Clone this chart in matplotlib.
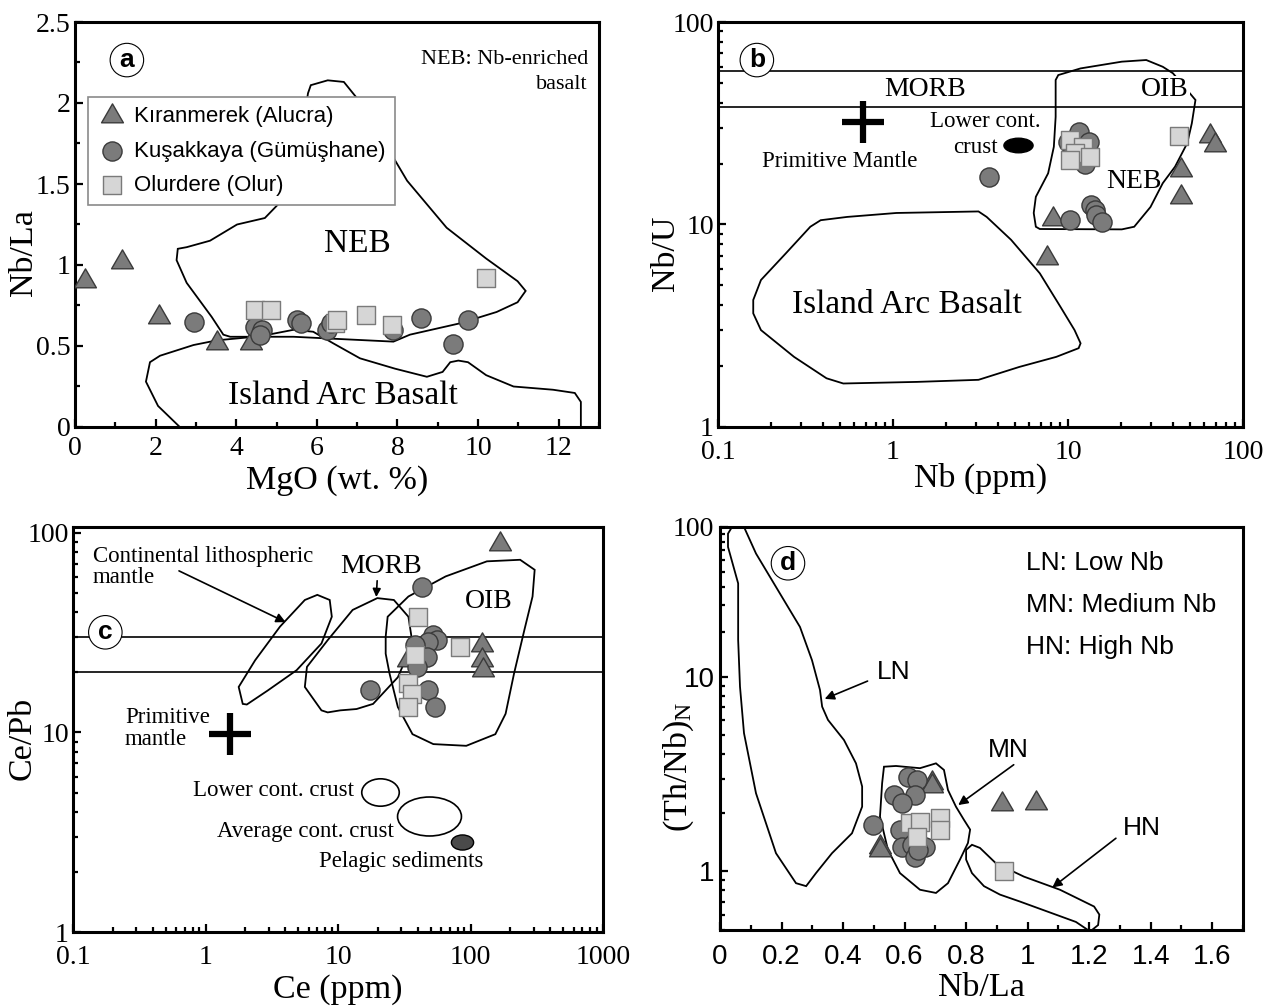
import numpy as np
import matplotlib
matplotlib.use("Agg")
import matplotlib.pyplot as plt
from matplotlib.path import Path
from matplotlib.patches import Polygon
from matplotlib.ticker import FuncFormatter, MultipleLocator, FixedLocator, NullFormatter, LogLocator

SERIF = "Liberation Serif"
SANS = "Liberation Sans"
plt.rcParams["font.family"] = [SERIF, "DejaVu Serif"]
plt.rcParams["mathtext.default"] = "regular"

# ---- (a) MgO vs Nb/La ----
a_tri_mgo = [0.25, 1.16, 2.09, 3.52, 4.36]
a_tri_nbla = [0.90, 1.02, 0.68, 0.52, 0.52]
a_cir_mgo = [2.94, 4.47, 4.65, 4.59, 5.52, 5.60, 6.24, 6.34, 7.90, 8.58, 9.37, 9.76]
a_cir_nbla = [0.65, 0.62, 0.60, 0.57, 0.66, 0.64, 0.60, 0.64, 0.60, 0.67, 0.51, 0.66]
a_sq_mgo = [4.47, 4.86, 6.45, 6.51, 7.21, 7.86, 10.19]
a_sq_nbla = [0.72, 0.72, 0.64, 0.66, 0.69, 0.63, 0.92]

a_neb_field = [(5.78, 2.06), (5.85, 2.11), (6.27, 2.14), (6.67, 2.13), (7.06, 2.01), (7.55, 1.81),
               (8.24, 1.52), (9.22, 1.23), (10.2, 1.04), (10.98, 0.90), (11.18, 0.84), (10.98, 0.77),
               (10.46, 0.71), (9.55, 0.64), (8.31, 0.57), (7.9, 0.527), (6.24, 0.547), (5.42, 0.557),
               (3.85, 0.557), (3.68, 0.57), (3.39, 0.68), (2.77, 0.89), (2.52, 1.03), (2.55, 1.10),
               (2.77, 1.11), (3.35, 1.15), (4.02, 1.25), (4.71, 1.29), (5.1, 1.39), (5.49, 1.64),
               (5.69, 1.91)]
a_iab_field = [(2.6, 0.0), (2.06, 0.13), (1.76, 0.28), (1.86, 0.40), (2.11, 0.44), (2.94, 0.506),
               (3.52, 0.535), (4.59, 0.56), (5.42, 0.60), (5.91, 0.588), (6.41, 0.516), (7.07, 0.424),
               (7.94, 0.36), (8.73, 0.31), (9.12, 0.34), (9.31, 0.40), (9.51, 0.41), (9.75, 0.40),
               (10.2, 0.32), (10.88, 0.25), (11.86, 0.23), (12.4, 0.21), (12.55, 0.155), (12.55, 0.0)]

# ---- (b) Nb vs Nb/U ----
b_tri_nb = [8.2, 7.55, 64.8, 69.2, 44.2, 44.2]
b_tri_nbu = [10.7, 6.8, 27.3, 24.7, 18.6, 13.7]
b_cir_nb = [3.52, 11.5, 10.0, 13.1, 12.5, 10.3, 13.6, 14.2, 14.5, 15.6]
b_cir_nbu = [17.2, 28.7, 25.6, 25.6, 20.0, 10.5, 12.5, 11.8, 11.1, 10.3]
b_sq_nb = [10.2, 12.2, 11.0, 10.2, 13.3, 43.2]
b_sq_nbu = [26.1, 24.2, 22.5, 20.8, 21.6, 27.2]

b_morb_oib_nbu = [38, 57]
b_pm = (0.675, 32)
b_lcc = (5.18, 24.7)

b_iab_field = [(0.386, 10.5), (0.547, 10.9), (1.045, 11.4), (3.08, 11.6), (3.43, 10.9), (4.73, 8.4),
               (6.9, 5.74), (9.04, 3.93), (10.9, 3.01), (11.8, 2.59), (11.5, 2.45), (8.57, 2.22),
               (5.27, 1.98), (3.08, 1.71), (1.37, 1.67), (0.52, 1.64), (0.417, 1.74), (0.272, 2.22),
               (0.176, 3.01), (0.159, 3.64), (0.159, 4.24), (0.176, 5.32), (0.244, 7.2), (0.337, 9.75)]
b_neb_field = [(8.8, 54.7), (11.8, 59), (20.3, 63.7), (28, 64.9), (34.8, 60.1), (39.8, 55.8),
               (53.5, 41.2), (51, 31.6), (48, 25.2), (40.9, 19.3), (34.8, 16), (29.6, 12.2),
               (23.9, 9.75), (20.3, 9.46), (6.9, 9.5), (6.55, 9.75), (6.37, 11.4), (6.55, 13.7),
               (7.7, 17.9), (8.3, 24.2), (8.5, 34), (8.5, 51.7)]

# ---- (c) Ce vs Ce/Pb ----
c_tri_ce = [165.6, 121.6, 121.6, 125.0, 34.0]
c_tri_cepb = [87.5, 27.4, 23.1, 20.5, 23.0]
c_cir_ce = [42.8, 52.4, 55.6, 48.1, 38.1, 39.3, 46.7, 39.3, 17.5, 48.1, 54.0]
c_cir_cepb = [53.7, 30.8, 29.0, 28.4, 27.4, 23.1, 23.9, 21.3, 16.3, 16.3, 13.4]
c_sq_ce = [40.4, 38.1, 34.0, 36.0, 34.0, 83.4]
c_sq_cepb = [38.0, 24.4, 17.6, 15.5, 13.4, 26.9]

c_morb_oib_cepb = [20, 30]
c_pm = (1.54, 9.8)
c_lcc = (20.8, 5.05)
c_acc = (48.7, 3.8)
c_pelagic = (86.5, 2.82)

c_clm_field = [(1.91, 13.9), (1.78, 16.9), (2.37, 23), (3.65, 33.9), (5.62, 46.1), (6.98, 48.9),
               (8.66, 46.1), (8.98, 38), (7.5, 27.9), (4.87, 20.5), (2.94, 16.2), (2.05, 13.8)]
c_morb_field = [(7.5, 12.9), (5.62, 16.9), (5.83, 21.3), (8.36, 29), (12.9, 41.1), (19.8, 47.1),
                (26.4, 46.1), (34, 38), (36.5, 27.9), (28.3, 18.9), (18.4, 13.9), (13.8, 13.1),
                (10.4, 12.9), (8.36, 12.6)]
c_oib_field = [(22.9, 30.2), (23.7, 38), (34, 48), (64.9, 60.5), (133, 72), (237, 73.3), (305, 65.3),
               (294, 48), (255, 32.6), (213, 19.7), (184, 12.4), (154, 9.8), (92.9, 8.57),
               (52.4, 8.74), (36.5, 9.8), (28.3, 13.4), (24.5, 19.7), (22.9, 24.8)]

# ---- (d) Nb/La vs (Th/Nb)N ----
d_tri_nbla = [0.688, 0.688, 0.52, 0.52, 0.918, 1.027]
d_tri_thnb = [2.84, 2.73, 1.34, 1.29, 2.22, 2.24]
d_cir_nbla = [0.612, 0.639, 0.564, 0.634, 0.591, 0.498, 0.585, 0.591, 0.623, 0.666, 0.634, 0.645]
d_cir_thnb = [3.07, 2.95, 2.47, 2.47, 2.24, 1.74, 1.64, 1.34, 1.37, 1.34, 1.19, 1.29]
d_sq_nbla = [0.618, 0.650, 0.715, 0.715, 0.639, 0.922]
d_sq_thnb = [1.77, 1.80, 1.88, 1.64, 1.51, 1.00]

d_ln_field = [(0.026, 90.3), (0.039, 100), (0.078, 100), (0.117, 66.5), (0.195, 35.9), (0.26, 21.5),
              (0.299, 12.9), (0.325, 8.55), (0.332, 7.02), (0.351, 6.0), (0.403, 4.73), (0.442, 3.59),
              (0.462, 2.73), (0.462, 2.15), (0.429, 1.57), (0.364, 1.24), (0.312, 0.98), (0.28, 0.84),
              (0.247, 0.87), (0.182, 1.24), (0.117, 2.52), (0.078, 5.13), (0.065, 8.89), (0.059, 17.6),
              (0.059, 42), (0.026, 73.6)]
d_mn_field = [(0.533, 3.45), (0.572, 3.48), (0.650, 3.39), (0.702, 3.59), (0.728, 3.32), (0.741, 2.62),
              (0.767, 2.15), (0.793, 1.84), (0.813, 1.64), (0.806, 1.4), (0.780, 1.15), (0.741, 0.87),
              (0.702, 0.775), (0.650, 0.805), (0.585, 0.98), (0.546, 1.29), (0.52, 1.91), (0.527, 2.84)]
d_hn_field = [(0.8, 1.29), (0.819, 1.37), (0.845, 1.32), (0.897, 1.1), (0.988, 0.94), (1.105, 0.805),
              (1.216, 0.66), (1.233, 0.6), (1.229, 0.53), (1.209, 0.5), (1.196, 0.5), (1.157, 0.55),
              (0.975, 0.70), (0.91, 0.76), (0.858, 0.84), (0.819, 0.98), (0.8, 1.15)]

series_labels = ["Kıranmerek (Alucra)", "Kuşakkaya (Gümüşhane)", "Olurdere (Olur)"]

# marker styles
TRI = Path([(-1, -0.577), (1, -0.577), (0, 1.155), (-1, -0.577)],
           [Path.MOVETO, Path.LINETO, Path.LINETO, Path.CLOSEPOLY])
DARK_FC, DARK_EC = "#7b7b7b", "#3a3a3a"
LIGHT_FC, LIGHT_EC = "#d6d6d6", "#7a7a7a"


def ellipse_marker(aspect):
    circ = Path.unit_circle()
    return Path(circ.vertices * [1.0, aspect], circ.codes)


def plot_samples(ax, tri, cir, sq):
    ax.scatter(*tri, marker=TRI, s=330, fc=DARK_FC, ec=DARK_EC, lw=1.0, zorder=5, label=series_labels[0])
    ax.scatter(*cir, marker="o", s=190, fc=DARK_FC, ec=DARK_EC, lw=1.0, zorder=6, label=series_labels[1])
    ax.scatter(*sq, marker="s", s=160, fc=LIGHT_FC, ec=LIGHT_EC, lw=1.0, zorder=7, label=series_labels[2])


def add_field(ax, pts, closed=True):
    ax.add_patch(Polygon(pts, closed=closed, fill=False, ec="black", lw=1.3, zorder=3))


def style_axes(ax, xlab_y, ylab_x, ylab_y, sans=False, padx=6.5, pady=3):
    fam = SANS if sans else SERIF
    for sp in ax.spines.values():
        sp.set_linewidth(2.2)
    ax.tick_params(which="both", direction="in", top=False, right=False, width=1.6, labelsize=20)
    ax.tick_params(axis="x", pad=padx)
    ax.tick_params(axis="y", pad=pady)
    ax.tick_params(which="major", length=6)
    ax.tick_params(which="minor", length=3.5)
    for lab in ax.get_xticklabels() + ax.get_yticklabels():
        lab.set_family(fam)
    ax.xaxis.set_label_coords(0.5, xlab_y)
    ax.yaxis.set_label_coords(ylab_x, ylab_y)


def panel_tag(ax, letter, x, y):
    ax.text(x, y, letter, transform=ax.transAxes, ha="center", va="center", family=SANS,
            fontsize=19, fontweight="bold", zorder=10,
            bbox=dict(boxstyle="circle,pad=0.18", fc="white", ec="black", lw=0.8))


def gfmt(v, pos):
    return "%g" % v


fig = plt.figure(figsize=(12.7, 10.06), dpi=100)
W, H = 1270.0, 1006.0
ax_a = fig.add_axes([75 / W, 1 - 427 / H, 524 / W, 405 / H])
ax_b = fig.add_axes([718 / W, 1 - 427 / H, 525 / W, 405 / H])
ax_c = fig.add_axes([73 / W, 1 - 932 / H, 530 / W, 405 / H])
ax_d = fig.add_axes([720 / W, 1 - 930 / H, 523 / W, 403 / H])

label_kw = dict(fontsize=24.5)
note = 16.5

# ---------------- panel a ----------------
ax = ax_a
add_field(ax, a_neb_field)
add_field(ax, a_iab_field, closed=False)
plot_samples(ax, (a_tri_mgo, a_tri_nbla), (a_cir_mgo, a_cir_nbla), (a_sq_mgo, a_sq_nbla))
ax.set_xlim(0, 13)
ax.set_ylim(0, 2.5)
ax.xaxis.set_major_locator(MultipleLocator(2))
ax.xaxis.set_minor_locator(MultipleLocator(1))
ax.yaxis.set_major_locator(MultipleLocator(0.5))
ax.yaxis.set_minor_locator(MultipleLocator(0.25))
ax.xaxis.set_major_formatter(FuncFormatter(gfmt))
ax.yaxis.set_major_formatter(FuncFormatter(gfmt))
ax.set_xlabel("MgO (wt. %)", **label_kw)
ax.set_ylabel("Nb/La", **label_kw)
ax.text(7.0, 1.13, "NEB", ha="center", va="center", fontsize=24)
ax.text(6.65, 0.19, "Island Arc Basalt", ha="center", va="center", fontsize=24)
ax.text(0.979, 0.93, "NEB: Nb-enriched\nbasalt", transform=ax.transAxes, ha="right", va="top",
        multialignment="right", fontsize=16, linespacing=1.4)
leg = ax.legend(loc="upper left", bbox_to_anchor=(0.025, 0.815), borderaxespad=0,
                prop=dict(family=SANS, size=16), frameon=True, fancybox=False, framealpha=1,
                edgecolor="#8a8a8a", borderpad=0.42, labelspacing=0.6, handletextpad=0.35,
                handlelength=1.3, scatterpoints=1)
leg.get_frame().set_linewidth(1.2)
panel_tag(ax, "a", 0.099, 0.906)
style_axes(ax, -0.094, -0.068, 0.43, padx=6.5)

# ---------------- panel b ----------------
ax = ax_b
ax.set_xscale("log")
ax.set_yscale("log")
for v in b_morb_oib_nbu:
    ax.axhline(v, color="black", lw=1.2, zorder=2)
add_field(ax, b_iab_field)
add_field(ax, b_neb_field)
plot_samples(ax, (b_tri_nb, b_tri_nbu), (b_cir_nb, b_cir_nbu), (b_sq_nb, b_sq_nbu))
ax.plot(*b_pm, marker="+", ms=30, mew=4.5, color="black", zorder=8)
ax.plot(*b_lcc, marker=ellipse_marker(0.5), ms=21, color="black", ls="none", zorder=8)
ax.set_xlim(0.1, 100)
ax.set_ylim(1, 100)
ax.xaxis.set_major_formatter(FuncFormatter(gfmt))
ax.yaxis.set_major_formatter(FuncFormatter(gfmt))
ax.xaxis.set_minor_formatter(NullFormatter())
ax.yaxis.set_minor_formatter(NullFormatter())
ax.set_xlabel("Nb (ppm)", **label_kw)
ax.set_ylabel("Nb/U", **label_kw)
ax.text(1.52, 46.5, "MORB", ha="center", va="center", fontsize=20)
ax.text(35.8, 46.5, "OIB", ha="center", va="center", fontsize=20, zorder=9,
        bbox=dict(fc="white", ec="none", pad=0.5))
ax.text(23.8, 16.3, "NEB", ha="center", va="center", fontsize=20, zorder=9)
ax.text(1.2, 4.0, "Island Arc Basalt", ha="center", va="center", fontsize=24)
ax.text(0.498, 20.4, "Primitive Mantle", ha="center", va="center", fontsize=note)
ax.text(3.36, 32.1, "Lower cont.", ha="center", va="center", fontsize=note)
ax.text(3.98, 24.1, "crust", ha="right", va="center", fontsize=note)
panel_tag(ax, "b", 0.074, 0.906)
style_axes(ax, -0.088, -0.070, 0.43, padx=9.5)

# ---------------- panel c ----------------
ax = ax_c
ax.set_xscale("log")
ax.set_yscale("log")
for v in c_morb_oib_cepb:
    ax.axhline(v, color="black", lw=1.2, zorder=2)
add_field(ax, c_clm_field)
add_field(ax, c_morb_field)
add_field(ax, c_oib_field)
plot_samples(ax, (c_tri_ce, c_tri_cepb), (c_cir_ce, c_cir_cepb), (c_sq_ce, c_sq_cepb))
ax.plot(*c_pm, marker="+", ms=30, mew=4.5, color="black", zorder=8)
ax.plot(*c_lcc, marker=ellipse_marker(0.73), ms=27, mfc="white", mec="black", mew=1.2, ls="none", zorder=8)
ax.plot(*c_acc, marker=ellipse_marker(0.61), ms=46, mfc="white", mec="black", mew=1.2, ls="none", zorder=8)
ax.plot(*c_pelagic, marker=ellipse_marker(0.68), ms=16, mfc="#4a4a4a", mec="black", mew=1.0, ls="none", zorder=8)
ax.set_xlim(0.1, 1000)
ax.set_ylim(1, 107)
ax.xaxis.set_major_locator(LogLocator(base=10, numticks=10))
ax.xaxis.set_major_formatter(FuncFormatter(gfmt))
ax.yaxis.set_major_formatter(FuncFormatter(gfmt))
ax.xaxis.set_minor_formatter(NullFormatter())
ax.yaxis.set_minor_formatter(NullFormatter())
ax.set_xlabel("Ce (ppm)", **label_kw)
ax.set_ylabel("Ce/Pb", **label_kw)
ax.text(0.141, 67.4, "Continental lithospheric\nmantle", ha="left", va="center", fontsize=note, linespacing=1.05)
ax.annotate("", xy=(4.21, 35.2), xytext=(0.604, 65.4),
            arrowprops=dict(arrowstyle="-|>", color="black", lw=1.2, mutation_scale=14))
ax.text(21.3, 68, "MORB", ha="center", va="center", fontsize=20)
ax.annotate("", xy=(19.4, 46.2), xytext=(19.8, 59.4),
            arrowprops=dict(arrowstyle="-|>", color="black", lw=1.2, mutation_scale=12))
ax.text(138, 45.3, "OIB", ha="center", va="center", fontsize=20)
ax.text(0.246, 10.5, "Primitive\nmantle", ha="left", va="center", fontsize=note, linespacing=1.05)
ax.text(13.3, 5.12, "Lower cont. crust", ha="right", va="center", fontsize=note)
ax.text(26.4, 3.19, "Average cont. crust", ha="right", va="center", fontsize=note)
ax.text(7.24, 2.25, "Pelagic sediments", ha="left", va="center", fontsize=note)
panel_tag(ax, "c", 0.061, 0.74)
style_axes(ax, -0.103, -0.066, 0.477, padx=9.5)

# ---------------- panel d ----------------
ax = ax_d
K = 150.0 / 195.0  # upper decade of the original axis is drawn compressed


def d_fwd(y):
    ly = np.log10(np.maximum(y, 1e-12))
    return np.where(ly <= 1, ly, 1 + (ly - 1) * K)


def d_inv(u):
    u = np.asarray(u, dtype=float)
    return np.where(u <= 1, 10 ** u, 10 ** (1 + (u - 1) / K))


ax.set_yscale("function", functions=(d_fwd, d_inv))
add_field(ax, d_ln_field)
add_field(ax, d_mn_field)
add_field(ax, d_hn_field)
plot_samples(ax, (d_tri_nbla, d_tri_thnb), (d_cir_nbla, d_cir_thnb), (d_sq_nbla, d_sq_thnb))
ax.set_xlim(0, 1.7)
ax.set_ylim(0.5, 100)
ax.xaxis.set_major_locator(MultipleLocator(0.2))
ax.xaxis.set_minor_locator(MultipleLocator(0.1))
ax.xaxis.set_major_formatter(FuncFormatter(gfmt))
ax.set_yticks([1, 10, 100], labels=["1", "10", "100"])
ax.yaxis.set_minor_locator(FixedLocator([0.5, 0.6, 0.7, 0.8, 0.9] + list(range(2, 10)) + list(range(20, 100, 10))))
ax.yaxis.set_minor_formatter(NullFormatter())
ax.set_xlabel("Nb/La", **label_kw)
ax.set_ylabel("(Th/Nb)$_N$", **label_kw)
sans_note = 19
ax.text(0.566, 10.8, "LN", ha="center", va="center", family=SANS, fontsize=sans_note)
ax.annotate("", xy=(0.332, 7.6), xytext=(0.488, 9.62),
            arrowprops=dict(arrowstyle="-|>", color="black", lw=1.2, mutation_scale=14))
ax.text(0.936, 4.2, "MN", ha="center", va="center", family=SANS, fontsize=sans_note)
ax.annotate("", xy=(0.767, 2.15), xytext=(0.962, 3.6),
            arrowprops=dict(arrowstyle="-|>", color="black", lw=1.2, mutation_scale=14))
ax.text(1.372, 1.67, "HN", ha="center", va="center", family=SANS, fontsize=sans_note)
ax.annotate("", xy=(1.073, 0.81), xytext=(1.294, 1.51),
            arrowprops=dict(arrowstyle="-|>", color="black", lw=1.2, mutation_scale=14))
for txt, yy in zip(["LN: Low Nb", "MN: Medium Nb", "HN: High Nb"], [0.91, 0.806, 0.703]):
    ax.text(0.585, yy, txt, transform=ax.transAxes, ha="left", va="center", family=SANS, fontsize=sans_note)
panel_tag(ax, "d", 0.130, 0.91)
style_axes(ax, -0.105, -0.046, 0.404, sans=True, padx=10, pady=4)
for lab in ax.get_yticklabels():
    if lab.get_text() == "100":
        lab.set_family(SERIF)

fig.savefig("out.png", dpi=100)
